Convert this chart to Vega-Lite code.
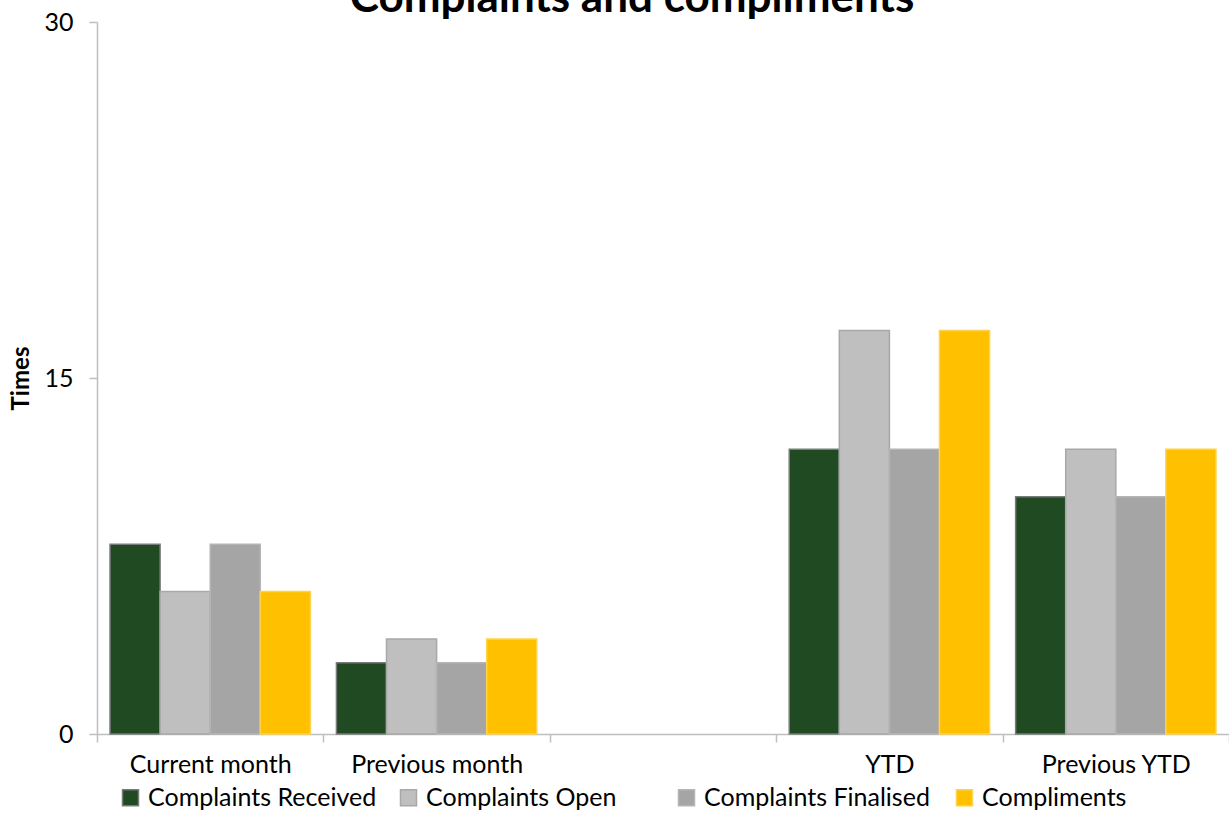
{
  "$schema": "https://vega.github.io/schema/vega-lite/v6.json",
  "autosize": {"type": "none"},
  "padding": {"left": 97, "top": 22, "right": 0, "bottom": 104},
  "width": 1132,
  "height": 712,
  "background": "white",
  "config": {"view": {"stroke": null}, "font": "Lato"},
  "title": {
    "text": "Complaints and compliments",
    "font": "Lato",
    "fontSize": 44,
    "fontWeight": "bold",
    "color": "#000000",
    "anchor": "middle",
    "baseline": "alphabetic",
    "offset": 0,
    "dy": 46,
    "dx": -31
  },
  "data": {
    "values": [
      {"category": "Current month", "series": "Complaints Received", "value": 8},
      {"category": "Current month", "series": "Complaints Open", "value": 6},
      {"category": "Current month", "series": "Complaints Finalised", "value": 8},
      {"category": "Current month", "series": "Compliments", "value": 6},
      {"category": "Previous month", "series": "Complaints Received", "value": 3},
      {"category": "Previous month", "series": "Complaints Open", "value": 4},
      {"category": "Previous month", "series": "Complaints Finalised", "value": 3},
      {"category": "Previous month", "series": "Compliments", "value": 4},
      {"category": "YTD", "series": "Complaints Received", "value": 12},
      {"category": "YTD", "series": "Complaints Open", "value": 17},
      {"category": "YTD", "series": "Complaints Finalised", "value": 12},
      {"category": "YTD", "series": "Compliments", "value": 17},
      {"category": "Previous YTD", "series": "Complaints Received", "value": 10},
      {"category": "Previous YTD", "series": "Complaints Open", "value": 12},
      {"category": "Previous YTD", "series": "Complaints Finalised", "value": 10},
      {"category": "Previous YTD", "series": "Compliments", "value": 12}
    ]
  },
  "mark": {"type": "bar", "strokeWidth": 1.5},
  "encoding": {
    "x": {
      "field": "category",
      "type": "nominal",
      "sort": null,
      "scale": {
        "domain": ["Current month", "Previous month", " ", "YTD", "Previous YTD"],
        "paddingInner": 0,
        "paddingOuter": 0
      },
      "axis": {
        "title": null,
        "labelAngle": 0,
        "labelFont": "Lato",
        "labelFontSize": 25,
        "labelColor": "#000000",
        "labelPadding": 10,
        "tickBand": "extent",
        "tickSize": 8,
        "tickColor": "#bfbfbf",
        "domainColor": "#bfbfbf",
        "domainWidth": 1.5,
        "tickWidth": 1.5,
        "grid": false
      }
    },
    "xOffset": {
      "field": "series",
      "type": "nominal",
      "sort": null,
      "scale": {
        "domain": ["Complaints Received", "Complaints Open", "Complaints Finalised", "Compliments"],
        "paddingInner": 0,
        "paddingOuter": 0.26
      }
    },
    "y": {
      "field": "value",
      "type": "quantitative",
      "scale": {"domain": [0, 30], "nice": false},
      "axis": {
        "title": "Times",
        "titleFont": "Lato",
        "titleFontSize": 24,
        "titleFontWeight": "bold",
        "titleColor": "#000000",
        "titlePadding": 10,
        "values": [0, 15, 30],
        "labelFont": "Lato",
        "labelFontSize": 25,
        "labelColor": "#000000",
        "labelPadding": 16,
        "tickSize": 8,
        "tickColor": "#bfbfbf",
        "domainColor": "#bfbfbf",
        "domainWidth": 1.5,
        "tickWidth": 1.5,
        "grid": false
      }
    },
    "color": {
      "field": "series",
      "type": "nominal",
      "sort": null,
      "scale": {
        "domain": ["Complaints Received", "Complaints Open", "Complaints Finalised", "Compliments"],
        "range": ["#1f4a22", "#bfbfbf", "#a5a5a5", "#ffc000"]
      },
      "legend": {
        "title": null,
        "orient": "none",
        "direction": "horizontal",
        "legendX": 21,
        "legendY": 763,
        "symbolType": "square",
        "symbolSize": 256,
        "symbolStrokeWidth": 1.5,
        "labelFont": "Lato",
        "labelFontSize": 25,
        "labelColor": "#000000",
        "labelOffset": 5,
        "labelLimit": 400,
        "gridAlign": "all",
        "columnPadding": 19
      }
    },
    "stroke": {
      "field": "series",
      "type": "nominal",
      "sort": null,
      "scale": {
        "domain": ["Complaints Received", "Complaints Open", "Complaints Finalised", "Compliments"],
        "range": ["#7a7a7a", "#a8a8a8", "#b5b5b5", "#ffd24d"]
      },
      "legend": null
    }
  }
}
